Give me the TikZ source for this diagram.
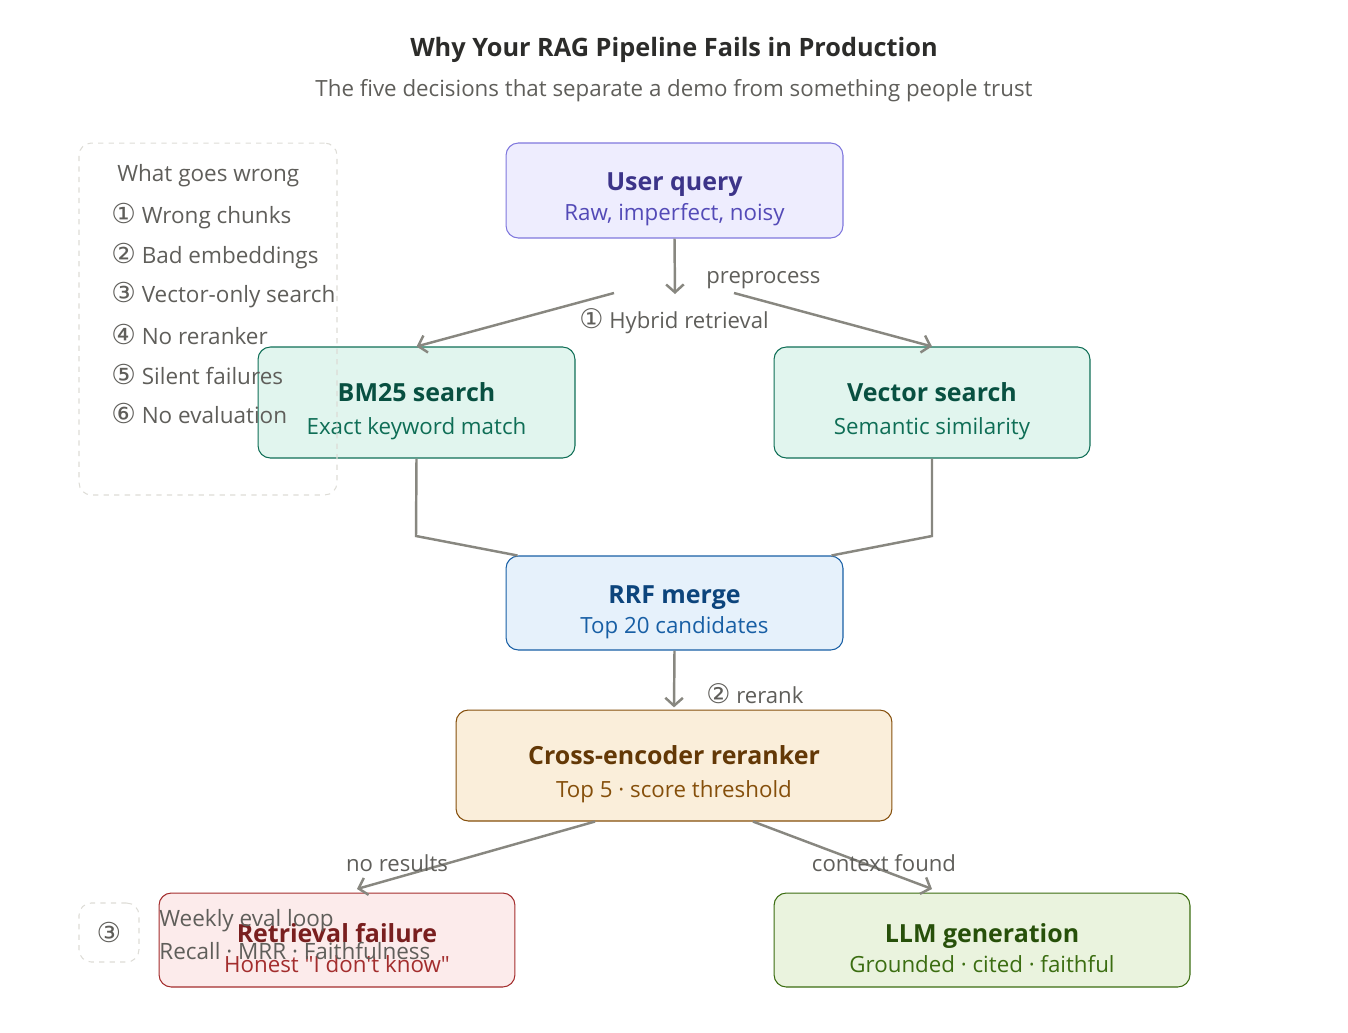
\documentclass[tikz,border=0pt]{standalone}
\usepackage{fontspec}
\setmainfont{Open Sans}
\newfontfamily\circfont[Scale=1.22]{DejaVu Sans}
\usepackage{tikz}
\usetikzlibrary{arrows.meta}

\definecolor{edgegray}{HTML}{888780}
\definecolor{labelgray}{HTML}{5F5E5A}
\definecolor{headgray}{HTML}{2C2C2A}
\definecolor{dashgray}{HTML}{DDDCD6}
\definecolor{qfill}{HTML}{EEEDFE}\definecolor{qline}{HTML}{7F77DD}
\definecolor{qtitle}{HTML}{3C3489}\definecolor{qsub}{HTML}{534AB7}
\definecolor{tfill}{HTML}{E1F5EE}\definecolor{tline}{HTML}{0F6E56}
\definecolor{ttitle}{HTML}{085041}\definecolor{tsub}{HTML}{0F6E56}
\definecolor{bfill}{HTML}{E6F1FB}\definecolor{bline}{HTML}{185FA5}
\definecolor{btitle}{HTML}{0C447C}\definecolor{bsub}{HTML}{185FA5}
\definecolor{afill}{HTML}{FAEEDA}\definecolor{aline}{HTML}{854F0B}
\definecolor{atitle}{HTML}{633806}\definecolor{asub}{HTML}{854F0B}
\definecolor{rfill}{HTML}{FCEBEB}\definecolor{rline}{HTML}{A32D2D}
\definecolor{rtitle}{HTML}{791F1F}\definecolor{rsub}{HTML}{A32D2D}
\definecolor{gfill}{HTML}{EAF3DE}\definecolor{gline}{HTML}{3B6D11}
\definecolor{gtitle}{HTML}{27500A}\definecolor{gsub}{HTML}{3B6D11}

% box title: bold, with a strut that moves the two lines a little down
\newcommand{\ttl}{\rule{0pt}{20.5pt}\fontsize{14.2}{17}\selectfont\bfseries}

\begin{document}
\begin{tikzpicture}[x=0.02cm,y=-0.02cm,
	box/.style={draw,rounded corners=7pt,line width=0.6pt,align=center,inner sep=0pt,
		font=\fontsize{12.7}{17}\selectfont},
	legendbox/.style={draw=dashgray,dashed,rounded corners=7pt,line width=0.6pt},
	legitem/.style={anchor=west,text=labelgray,inner sep=0pt,font=\fontsize{12.8}{14}\selectfont},
	lbl/.style={text=labelgray,inner sep=0pt,font=\fontsize{12.6}{14}\selectfont},
	arr/.style={draw=edgegray,line width=1.4pt,-{Straight Barb[length=4.5pt,width=10pt]}},
	link/.style={draw=edgegray,line width=1.4pt}]
	\useasboundingbox (0,0) rectangle (1348,1032);

	% heading
	\node[text=headgray,font=\fontsize{14.4}{17}\selectfont\bfseries] (heading) at (674,50) {Why Your RAG Pipeline Fails in Production};
	\node[text=labelgray,font=\fontsize{12.7}{14}\selectfont] (subheading) at (674,91) {The five decisions that separate a demo from something people trust};

	% pipeline
	\node[box,fill=qfill,draw=qline,minimum width=6.74cm,minimum height=1.9cm] (query) at (674.5,190.5)
		{{\ttl\color{qtitle}User query}\\\color{qsub}Raw, imperfect, noisy};
	\node[box,fill=tfill,draw=tline,minimum width=6.34cm,minimum height=2.22cm] (bm25) at (416.5,402.5)
		{{\ttl\color{ttitle}BM25 search}\\[2pt]\color{tsub}Exact keyword match};
	\node[box,fill=tfill,draw=tline,minimum width=6.32cm,minimum height=2.22cm] (vec) at (932,402.5)
		{{\ttl\color{ttitle}Vector search}\\[2pt]\color{tsub}Semantic similarity};
	\node[box,fill=bfill,draw=bline,minimum width=6.74cm,minimum height=1.88cm] (rrf) at (674.5,603)
		{{\ttl\color{btitle}RRF merge}\\\color{bsub}Top 20 candidates};
	\node[box,fill=afill,draw=aline,minimum width=8.72cm,minimum height=2.22cm] (rerank) at (674,765.5)
		{{\ttl\color{atitle}Cross-encoder reranker}\\[2pt]\color{asub}Top 5 · score threshold};
	\node[box,fill=rfill,draw=rline,minimum width=7.12cm,minimum height=1.88cm] (fail) at (337,940)
		{{\ttl\color{rtitle}Retrieval failure}\\\color{rsub}Honest \textquotedbl I don\textquotesingle t know\textquotedbl};
	\node[box,fill=gfill,draw=gline,minimum width=8.32cm,minimum height=1.88cm] (llm) at (982,940)
		{{\ttl\color{gtitle}LLM generation}\\\color{gsub}Grounded · cited · faithful};

	% legend (over the boxes)
	\node[legendbox,minimum width=5.16cm,minimum height=7.04cm] (legend) at (208,319) {};
	\node[legitem] (leghead) at (117,176) {What goes wrong};
	\foreach \n/\t [count=\i] in {①/Wrong chunks,②/Bad embeddings,③/Vector-only search,④/No reranker,⑤/Silent failures,⑥/No evaluation}
		\node[legitem] (leg\i) at (111,177+39.4*\i) {{\circfont\n} \t};

	% eval loop
	\node[legendbox,minimum width=1.2cm,minimum height=1.18cm,font=\fontsize{12.8}{14}\selectfont,text=labelgray] (evalbox) at (109,932.5) {\circfont ③};
	\node[legitem] (eval1) at (159,921) {Weekly eval loop};
	\node[legitem] (eval2) at (159,951) {Recall · MRR · Faithfulness};

	% free ends
	\coordinate (qend) at (675,294);
	\coordinate (hybl) at (614,293);
	\coordinate (hybr) at (734,293);
	\coordinate (bmjoin) at (416,536);
	\coordinate (vecjoin) at (932,536);

	\path
	(query.south) edge[arr] (qend)
	(hybl) edge[arr] (bm25.north)
	(hybr) edge[arr] (vec.north)
	(rrf.south) edge[arr] ([yshift=1.2pt]rerank.north)
	([xshift=-1.58cm]rerank.south) edge[arr] ([xshift=0.4cm,yshift=2pt]fail.north)
	([xshift=1.58cm]rerank.south) edge[arr] ([xshift=-1cm,yshift=2pt]llm.north)
	;
	\draw[link] (bm25.south) -- (bmjoin) -- ([xshift=0.24cm]rrf.north west);
	\draw[link] (vec.south) -- (vecjoin) -- ([xshift=-0.24cm]rrf.north east);

	% edge labels
	\node[lbl,anchor=west] (lpre) at (706,280) {preprocess};
	\node[lbl] (lhyb) at (674,321) {{\circfont ①} Hybrid retrieval};
	\node[lbl,anchor=west] (lrerank) at (706,694) {{\circfont ②} rerank};
	\node[lbl] (lnores) at (397,863) {no results};
	\node[lbl] (lfound) at (884,863) {context found};
\end{tikzpicture}
\end{document}
